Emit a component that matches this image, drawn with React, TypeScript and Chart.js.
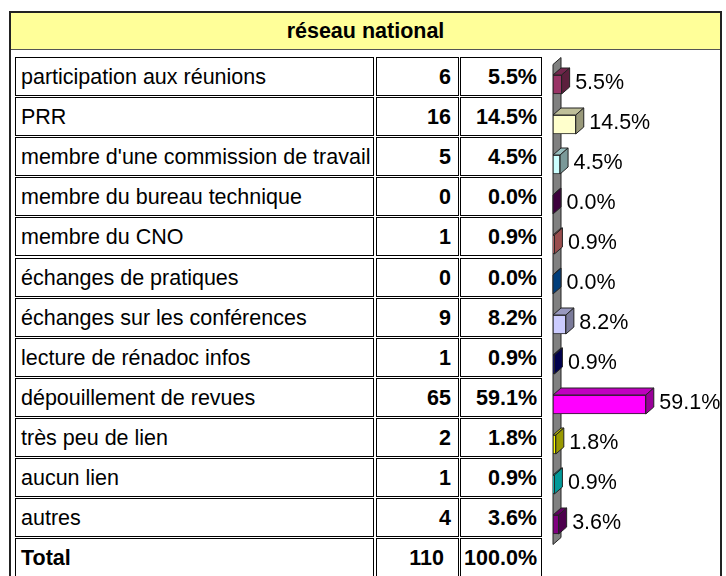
import React, { useEffect, useRef } from "react";
import { Chart, registerables } from "chart.js";

Chart.register(...registerables);

const title = "réseau national";
const categories = [
  "participation aux réunions",
  "PRR",
  "membre d'une commission de travail",
  "membre du bureau technique",
  "membre du CNO",
  "échanges de pratiques",
  "échanges sur les conférences",
  "lecture de rénadoc infos",
  "dépouillement de revues",
  "très peu de lien",
  "aucun lien",
  "autres",
];
const counts = [6, 16, 5, 0, 1, 0, 9, 1, 65, 2, 1, 4];
const percents = [5.5, 14.5, 4.5, 0.0, 0.9, 0.0, 8.2, 0.9, 59.1, 1.8, 0.9, 3.6];
const totalLabel = "Total";
const totalCount = 110;
const totalPercent = 100.0;
const barColors = [
  "#993366", "#FFFFCC", "#CCFFFF", "#660066", "#FF8080", "#0066CC",
  "#CCCCFF", "#000080", "#FF00FF", "#FFFF00", "#00FFFF", "#800080",
];

const FONT = '"Liberation Sans", Arial, sans-serif';
const DX = 8;
const DY = 7;

function shade(hex: string, f: number): string {
  const n = parseInt(hex.slice(1), 16);
  const r = Math.round(((n >> 16) & 255) * f);
  const g = Math.round(((n >> 8) & 255) * f);
  const b = Math.round((n & 255) * f);
  return `rgb(${r},${g},${b})`;
}

const threeD = {
  id: "threeD",
  beforeDatasetsDraw(chart: any) {
    const { ctx, chartArea } = chart;
    const L = chartArea.left;
    const T = chartArea.top;
    const B = chartArea.bottom;
    ctx.save();
    ctx.beginPath();
    ctx.moveTo(L, B);
    ctx.lineTo(L, T);
    ctx.lineTo(L + DX, T - DY);
    ctx.lineTo(L + DX, B - DY);
    ctx.closePath();
    ctx.fillStyle = "#808080";
    ctx.fill();
    ctx.strokeStyle = "#222";
    ctx.lineWidth = 1;
    ctx.stroke();
    ctx.restore();
  },
  afterDatasetsDraw(chart: any) {
    const { ctx } = chart;
    const meta = chart.getDatasetMeta(0);
    ctx.save();
    ctx.lineWidth = 1;
    ctx.strokeStyle = "#222";
    meta.data.forEach((el: any, i: number) => {
      const x0 = el.base;
      const x1 = el.x;
      const h = el.height;
      const yT = el.y - h / 2;
      const yB = el.y + h / 2;
      const c = barColors[i];
      // top face
      ctx.beginPath();
      ctx.moveTo(x0, yT);
      ctx.lineTo(x0 + DX, yT - DY);
      ctx.lineTo(x1 + DX, yT - DY);
      ctx.lineTo(x1, yT);
      ctx.closePath();
      ctx.fillStyle = shade(c, 0.75);
      ctx.fill();
      ctx.stroke();
      // side face
      ctx.beginPath();
      ctx.moveTo(x1, yT);
      ctx.lineTo(x1 + DX, yT - DY);
      ctx.lineTo(x1 + DX, yB - DY);
      ctx.lineTo(x1, yB);
      ctx.closePath();
      ctx.fillStyle = shade(c, 0.6);
      ctx.fill();
      ctx.stroke();
      // label
      ctx.fillStyle = "#000";
      ctx.font = `21.5px ${FONT}`;
      ctx.textAlign = "left";
      ctx.textBaseline = "middle";
      ctx.fillText(percents[i].toFixed(1) + "%", x1 + DX + 5.5, el.y - 1);
    });
    ctx.restore();
  },
};

const ROW_TOP = 57;
const ROW_STEP = 40.1;

function Cell(props: {
  left: number; top: number; width: number; text: string; bold?: boolean;
  align: "left" | "right"; pad: number;
}) {
  const { left, top, width, text, bold, align, pad } = props;
  return (
    <div
      style={{
        position: "absolute",
        left,
        top,
        width,
        height: 39,
        boxSizing: "border-box",
        border: "1px solid #000",
        background: "#fff",
        display: "flex",
        alignItems: "center",
        justifyContent: align === "left" ? "flex-start" : "flex-end",
        paddingLeft: align === "left" ? pad : 0,
        paddingRight: align === "right" ? pad : 0,
        paddingTop: 2,
        whiteSpace: "nowrap",
        overflow: "visible",
        fontFamily: FONT,
        fontSize: "21.5px",
        fontWeight: bold ? "bold" : "normal",
        color: "#000",
      }}
    >
      {text}
    </div>
  );
}

export default function App() {
  const ref = useRef<HTMLCanvasElement>(null);
  useEffect(() => {
    if (!ref.current) return;
    const chart = new Chart(ref.current, {
      type: "bar",
      data: {
        labels: categories,
        datasets: [
          {
            data: percents,
            backgroundColor: barColors,
            borderColor: "#222",
            borderWidth: 1,
            borderSkipped: false,
            barThickness: 19,
          },
        ],
      },
      options: {
        indexAxis: "y",
        responsive: false,
        animation: false,
        devicePixelRatio: 1,
        layout: { padding: { left: 9, right: 10, top: 13.5, bottom: 31.5 } },
        plugins: { legend: { display: false }, tooltip: { enabled: false }, title: { display: false } },
        scales: {
          x: { display: false, min: 0, max: 100 },
          y: { display: false, grid: { display: false } },
        },
      },
      plugins: [threeD],
    });
    return () => chart.destroy();
  }, []);

  const rows = categories.map((c, i) => ({
    label: c,
    count: String(counts[i]),
    pct: percents[i].toFixed(1) + "%",
    bold: false,
  }));
  rows.push({ label: totalLabel, count: String(totalCount), pct: totalPercent.toFixed(1) + "%", bold: true });

  return (
    <div style={{ position: "fixed", left: 0, top: 0, width: 726, height: 576, overflow: "hidden", background: "#fff" }}>
      <div
        style={{
          position: "absolute",
          left: 9,
          top: 11,
          width: 713,
          height: 600,
          boxSizing: "border-box",
          border: "2px solid #222",
        }}
      />
      <div
        style={{
          position: "absolute",
          left: 11,
          top: 13,
          width: 709,
          height: 37,
          boxSizing: "border-box",
          background: "#FFFF99",
          borderBottom: "1px solid #555",
          display: "flex",
          alignItems: "center",
          justifyContent: "center",
          fontFamily: FONT,
          fontSize: "21.5px",
          fontWeight: "bold",
          color: "#000",
        }}
      >
        {title}
      </div>
      {rows.map((r, i) => {
        const top = Math.round(ROW_TOP + i * ROW_STEP);
        return (
          <React.Fragment key={i}>
            <Cell left={15} top={top} width={359} text={r.label} bold={r.bold} align="left" pad={5} />
            <Cell left={376} top={top} width={83} text={r.count} bold align="right" pad={r.bold ? 14 : 7} />
            <Cell left={460} top={top} width={82} text={r.pct} bold align="right" pad={4} />
          </React.Fragment>
        );
      })}
      <canvas
        ref={ref}
        width={176}
        height={525}
        style={{ position: "absolute", left: 544, top: 51, width: 176, height: 525 }}
      />
    </div>
  );
}
